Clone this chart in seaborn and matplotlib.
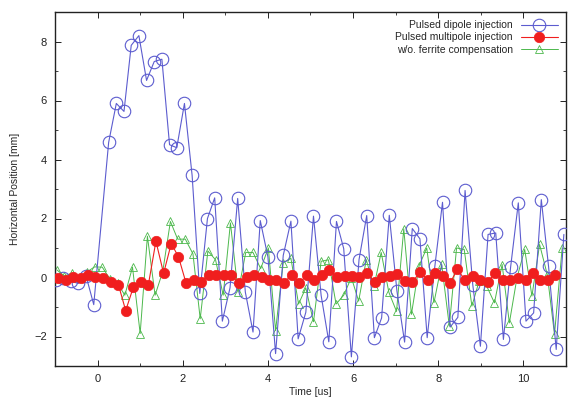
import numpy as np
import pandas as pd
import matplotlib
matplotlib.use("Agg")
import matplotlib.pyplot as plt
import seaborn as sns

# ---- data ----
t_dipole = [-0.98, -0.81, -0.63, -0.45, -0.27, -0.09, 0.26, 0.44, 0.62, 0.79,
            0.97, 1.15, 1.33, 1.51, 1.69, 1.86, 2.04, 2.22, 2.40, 2.58,
            2.75, 2.93, 3.11, 3.29, 3.47, 3.65, 3.82, 4.00, 4.18, 4.36,
            4.54, 4.71, 4.89, 5.07, 5.25, 5.43, 5.61, 5.78, 5.96, 6.14,
            6.32, 6.50, 6.67, 6.85, 7.03, 7.21, 7.39, 7.57, 7.74, 7.92,
            8.10, 8.28, 8.46, 8.63, 8.81, 8.99, 9.17, 9.35, 9.53, 9.70,
            9.88, 10.06, 10.24, 10.42, 10.59, 10.77, 10.95]
x_dipole = [-0.10, 0.00, -0.13, -0.20, 0.05, -0.92, 4.58, 5.90, 5.63, 7.87,
            8.20, 6.68, 7.32, 7.40, 4.50, 4.40, 5.90, 3.46, -0.54, 2.00,
            2.70, -1.48, -0.35, 2.68, -0.50, -1.85, 1.93, 0.70, -2.58, 0.75,
            1.91, -2.08, -1.18, 2.08, -0.61, -2.18, 1.90, 0.98, -2.69, 0.61,
            2.10, -2.04, -1.37, 2.11, -0.46, -2.19, 1.66, 1.31, -2.04, 0.38,
            2.55, -1.68, -1.35, 2.95, -0.24, -2.33, 1.46, 1.51, -2.10, 0.36,
            2.53, -1.48, -1.20, 2.64, 0.38, -2.44, 1.46]

t_multi = [-0.93, -0.75, -0.58, -0.40, -0.22, -0.05, 0.13, 0.31, 0.49, 0.66,
           0.84, 1.02, 1.19, 1.37, 1.55, 1.73, 1.90, 2.08, 2.26, 2.43,
           2.61, 2.79, 2.96, 3.14, 3.32, 3.50, 3.67, 3.85, 4.03, 4.20,
           4.38, 4.56, 4.74, 4.91, 5.09, 5.27, 5.44, 5.62, 5.80, 5.97,
           6.15, 6.33, 6.51, 6.68, 6.86, 7.04, 7.21, 7.39, 7.57, 7.75,
           7.92, 8.10, 8.28, 8.45, 8.63, 8.81, 8.98, 9.16, 9.34, 9.52,
           9.69, 9.87, 10.05, 10.22, 10.40, 10.58, 10.75]
x_multi = [0.00, -0.07, 0.02, -0.03, 0.10, 0.02, -0.03, -0.16, -0.25, -1.12,
           -0.33, -0.16, -0.27, 1.23, 0.14, 1.15, 0.70, -0.20, -0.07, -0.16,
           0.07, 0.08, 0.07, 0.07, -0.20, 0.02, 0.07, 0.02, -0.09, -0.09,
           -0.18, 0.10, -0.18, 0.07, -0.07, 0.07, 0.27, 0.02, 0.05, 0.05,
           0.02, 0.14, -0.16, 0.02, 0.05, 0.13, -0.12, -0.16, 0.18, -0.07,
           0.14, 0.05, -0.18, 0.28, -0.09, 0.05, -0.09, -0.16, 0.16, -0.09,
           -0.09, -0.01, -0.07, 0.16, -0.07, -0.07, 0.07]

t_noferr = [-0.95, -0.78, -0.60, -0.42, -0.24, -0.07, 0.11, 0.29, 0.47, 0.64,
            0.82, 1.00, 1.17, 1.35, 1.53, 1.71, 1.88, 2.06, 2.24, 2.41,
            2.59, 2.77, 2.95, 3.12, 3.30, 3.48, 3.65, 3.83, 4.01, 4.18,
            4.36, 4.54, 4.72, 4.89, 5.07, 5.25, 5.42, 5.60, 5.78, 5.96,
            6.13, 6.31, 6.49, 6.66, 6.84, 7.02, 7.19, 7.37, 7.55, 7.73,
            7.90, 8.08, 8.26, 8.43, 8.61, 8.79, 8.96, 9.14, 9.32, 9.50,
            9.67, 9.85, 10.03, 10.20, 10.38, 10.56, 10.73, 10.91]
x_noferr = [0.25, 0.05, 0.15, 0.00, 0.20, 0.36, 0.35, -0.05, -0.20, -0.60,
            0.35, -1.90, 1.40, -0.60, 0.20, 1.90, 1.30, 1.30, 0.80, -1.40,
            0.90, 0.60, -0.60, 1.85, -0.50, 0.85, 0.85, 0.30, 1.00, -1.80,
            0.50, 0.65, -0.90, -0.35, -1.50, 0.55, 0.60, -0.90, -0.60, 0.00,
            -0.80, 0.60, -0.30, 0.85, -0.50, -1.15, 1.65, -1.25, 0.40, 1.00,
            -0.85, 0.45, -1.65, 1.00, 0.95, -0.97, -0.12, -0.30, -0.86, 0.44,
            -1.54, 0.00, 0.95, -0.63, 1.12, 0.10, -1.93, 1.00]

labels = ["Pulsed dipole injection", "Pulsed multipole injection",
          "w/o. ferrite compensation"]
x_ticks = [0, 2, 4, 6, 8, 10]
y_ticks = [-2, 0, 2, 4, 6, 8]

df_d = pd.DataFrame({"t": t_dipole, "x": x_dipole})
df_m = pd.DataFrame({"t": t_multi, "x": x_multi})
df_g = pd.DataFrame({"t": t_noferr, "x": x_noferr})

# ---- style ----
sns.set_style("ticks")
plt.rcParams["font.family"] = ["Liberation Sans", "DejaVu Sans"]
plt.rcParams["xtick.direction"] = "in"
plt.rcParams["ytick.direction"] = "in"

fig = plt.figure(figsize=(5.72, 3.98), dpi=100)
ax = fig.add_axes([55 / 572, 1 - 366 / 398, (566 - 55) / 572, (366 - 12) / 398])

c_blue = "#5c5ccf"
c_red = "#f01e1e"
c_green = "#4cb84c"

sns.lineplot(data=df_g, x="t", y="x", ax=ax, sort=False, estimator=None,
             color=c_green, linewidth=0.7, marker="^", markersize=5.5,
             markerfacecolor="none", markeredgecolor=c_green,
             markeredgewidth=0.6, label=labels[2], zorder=2)
sns.lineplot(data=df_d, x="t", y="x", ax=ax, sort=False, estimator=None,
             color=c_blue, linewidth=0.8, marker="o", markersize=9,
             markerfacecolor="none", markeredgecolor=c_blue,
             markeredgewidth=0.8, label=labels[0], zorder=3)
sns.lineplot(data=df_m, x="t", y="x", ax=ax, sort=False, estimator=None,
             color=c_red, linewidth=0.8, marker="o", markersize=7.5,
             markerfacecolor=c_red, markeredgecolor=c_red,
             markeredgewidth=0.5, label=labels[1], zorder=4)

ax.set_xlim(-1, 11)
ax.set_ylim(-3, 9)
ax.set_xticks(x_ticks)
ax.set_yticks(y_ticks)
ax.set_xticks([-1, 1, 3, 5, 7, 9, 11], minor=True)
ax.set_yticks([-3, -1, 1, 3, 5, 7, 9], minor=True)
ax.tick_params(which="both", top=True, right=True, direction="in",
               labelsize=8, colors="#222222")
ax.tick_params(which="major", length=4, width=0.7, pad=6)
ax.tick_params(which="minor", length=2.5, width=0.6)
for s in ax.spines.values():
    s.set_linewidth(1.0)
    s.set_color("#222222")

ax.set_xlabel("Time [us]", fontsize=7.5, labelpad=2)
ax.set_ylabel("Horizontal Position [mm]", fontsize=7.5, labelpad=10)

h, l = ax.get_legend_handles_labels()
order = [l.index(labels[0]), l.index(labels[1]), l.index(labels[2])]
ax.legend([h[i] for i in order], [l[i] for i in order], loc="upper right",
          frameon=False, markerfirst=False, fontsize=7.5, handlelength=3.5,
          borderaxespad=0.4, labelspacing=0.2, handletextpad=0.8)

fig.savefig("out.png", dpi=100)
